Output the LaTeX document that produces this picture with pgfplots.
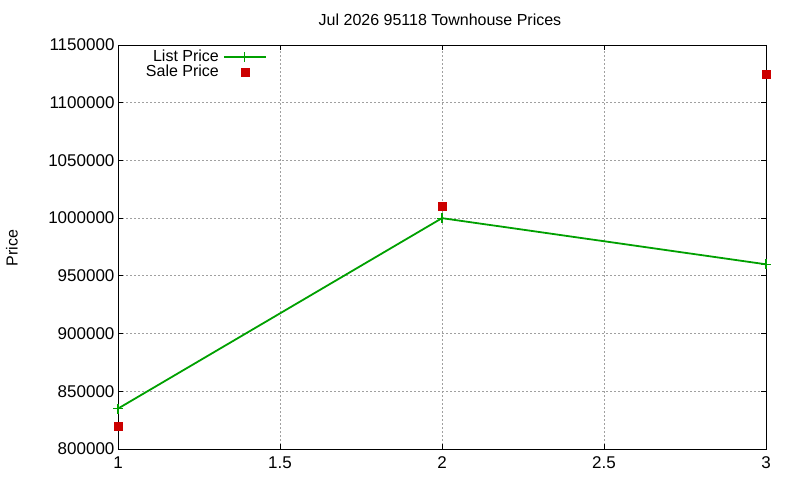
\documentclass[border=0pt]{standalone}
\usepackage{fontspec}
\setmainfont{Liberation Sans}
\usepackage{pgfplots}
\pgfplotsset{compat=1.18}
\definecolor{lpgreen}{RGB}{0,160,0}
\definecolor{spred}{RGB}{204,0,0}
\definecolor{gridgray}{RGB}{160,160,160}

\begin{document}
\begin{tikzpicture}[x=1pt,y=1pt]
\useasboundingbox (0,0) rectangle (800,480);
\node[font=\fontsize{16}{19}\selectfont] at (440,460) {Jul 2026 95118 Townhouse Prices};
\node[font=\fontsize{16}{19}\selectfont, rotate=90] at (12,232) {Price};
\begin{axis}[
    at={(118pt,31pt)}, anchor=south west,
    scale only axis,
    width=648pt, height=404pt,
    xmin=1, xmax=3, ymin=800000, ymax=1150000,
    xtick={1,1.5,2,2.5,3},
    xticklabels={1,1.5,2,2.5,3},
    ytick={800000,850000,...,1150000},
    yticklabel style={/pgf/number format/fixed, /pgf/number format/1000 sep={}},
    scaled y ticks=false,
    /pgf/number format/assume math mode=true,
    every tick label/.append style={font=\fontsize{17}{20}\selectfont},
    xticklabel style={yshift=-4pt},
    tick align=inside,
    xtick pos=both, ytick pos=both,
    major tick length=5pt,
    tick style={black, line width=0.8pt},
    axis line style={black, line width=0.8pt},
    grid=major,
    major grid style={gridgray, line width=0.8pt, dash pattern=on 2pt off 2pt},
    legend cell align=right,
    legend plot pos=right,
    legend style={draw=none, fill=none, at={(0.2299,0.9925)}, anchor=north east,
        font=\fontsize{16}{19}\selectfont, row sep=-2pt, inner sep=0pt},
    clip=false,
]
\addplot[color=lpgreen, line width=1.8pt, mark=+, mark size=5pt,
    mark options={line width=1.2pt},
    legend image code/.code={
        \path[draw=none, fill=none] (3pt,0pt) -- (48pt,0pt);
        \draw[draw=lpgreen, line width=1.8pt] (6pt,0pt) -- (48pt,0pt);
        \draw[draw=lpgreen, line width=1.2pt] (27pt,-5pt) -- (27pt,5pt);
    }] coordinates {
    (1, 835000) (2, 1000000) (3, 960000)
};
\addlegendentry{List Price}
\addplot[only marks, mark=square*, mark size=4pt, color=spred,
    legend image code/.code={
        \path[draw=none, fill=none] (3pt,0pt) -- (48pt,0pt);
        \fill[fill=spred] (23pt,-4pt) rectangle (31pt,4pt);
    }] coordinates {
    (1, 820000) (2, 1010000) (3, 1125000)
};
\addlegendentry{Sale Price}
\end{axis}
\end{tikzpicture}
\end{document}
